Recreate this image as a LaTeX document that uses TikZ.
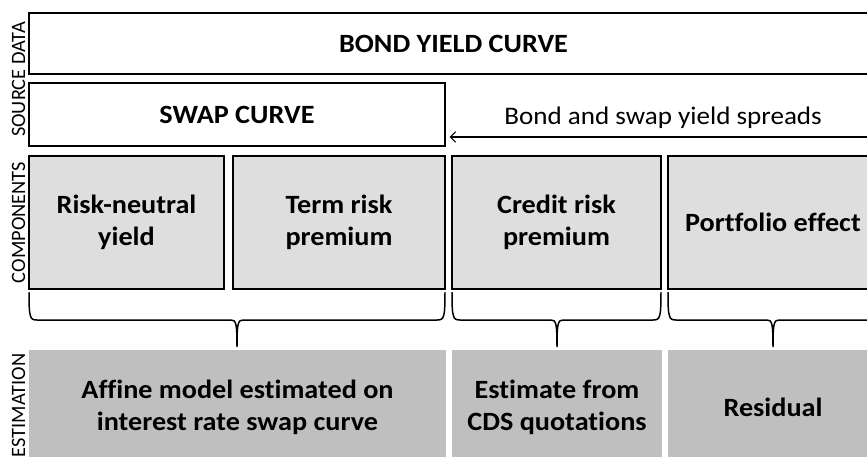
\documentclass[tikz,border=0pt]{standalone}
\usepackage{fontspec}
\setmainfont{Carlito}[FakeStretch=1.07,Ligatures=NoCommon]
\newfontfamily\sidefont{Carlito}[Ligatures=NoCommon]
\usetikzlibrary{arrows.meta}
\definecolor{compgray}{RGB}{222,222,222}
\definecolor{estgray}{RGB}{191,191,191}
\begin{document}
\begin{tikzpicture}[x=0.02cm,y=-0.02cm,>={Straight Barb[length=3pt,width=6pt]},
    srcbox/.style={draw=black,line width=1.4pt,fill=white,inner sep=0pt,
        font=\fontsize{15}{18}\selectfont\bfseries},
    compbox/.style={draw=black,line width=1.4pt,fill=compgray,align=center,inner sep=0pt,
        minimum height=2.66cm,font=\fontsize{15}{18.5}\selectfont\bfseries},
    estbox/.style={fill=estgray,align=center,inner sep=0pt,
        minimum height=2.3cm,font=\fontsize{15}{18}\selectfont\bfseries},
    sidelbl/.style={rotate=90,inner sep=0pt,font=\sidefont\fontsize{11.6}{13}\selectfont},
    brc/.style={black,line width=0.85pt}]
    \clip (0,0) rectangle (867,457);

    % source data
    \node[srcbox,minimum width=16.98cm,minimum height=1.22cm] (bond) at (453.5,43.5) {BOND YIELD CURVE};
    \node[srcbox,minimum width=8.32cm,minimum height=1.26cm] (swap) at (237,114.5) {SWAP CURVE};
    \coordinate (sprd) at (880,137);
    \draw[line width=0.6pt,->,shorten >=2pt] (sprd) -- (swap.east |- sprd)
        node[midway,above=1pt,font=\fontsize{14.4}{16}\selectfont] (sprdlbl) {Bond and swap yield spreads};

    % components
    \node[compbox,minimum width=3.9cm] (rny) at (126.5,222.5) {Risk-neutral\\yield};
    \node[compbox,minimum width=4.24cm] (trp) at (339,222.5) {Term risk\\premium};
    \node[compbox,minimum width=4.18cm] (crp) at (556.5,222.5) {Credit risk\\premium};
    \node[compbox,minimum width=4.2cm] (pfe) at (773,222.5) {Portfolio effect};

    % braces
    \draw[brc] (29,292) .. controls (29,318) and (30,320) .. (37,320) -- (231,320)
        .. controls (236,320) and (237,323) .. (237,347)
        .. controls (237,323) and (238,320) .. (243,320) -- (437,320)
        .. controls (444,320) and (445,318) .. (445,292);
    \draw[brc] (452,292) .. controls (452,318) and (453,320) .. (460,320) -- (551,320)
        .. controls (556,320) and (557,323) .. (557,347)
        .. controls (557,323) and (558,320) .. (563,320) -- (653,320)
        .. controls (660,320) and (661,318) .. (661,292);
    \draw[brc] (668,292) .. controls (668,318) and (669,320) .. (676,320) -- (767,320)
        .. controls (772,320) and (773,323) .. (773,347)
        .. controls (773,323) and (774,320) .. (779,320) -- (870,320)
        .. controls (877,320) and (878,318) .. (878,292);

    % estimation
    \node[estbox,minimum width=8.34cm] (aff) at (237.5,407.5) {Affine model estimated on\\interest rate swap curve};
    \node[estbox,minimum width=4.2cm] (cds) at (557,407.5) {Estimate from\\CDS quotations};
    \node[estbox,minimum width=4.2cm] (res) at (773,407.5) {Residual};

    % side labels
    \node[sidelbl] (srcdata) at (18.5,79.5) {SOURCE DATA};
    \node[sidelbl] (comp) at (18.5,222.5) {COMPONENTS};
    \node[sidelbl] (estim) at (18.5,405.5) {ESTIMATION};
\end{tikzpicture}
\end{document}
